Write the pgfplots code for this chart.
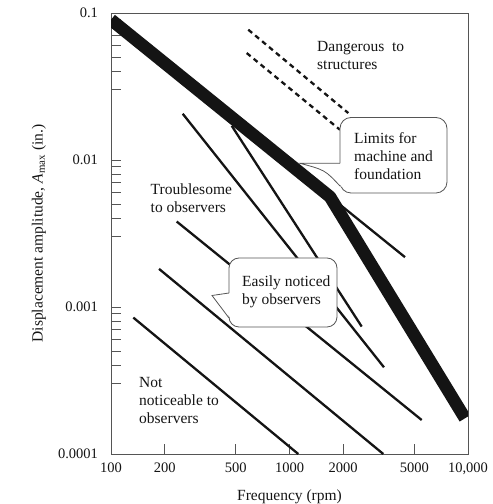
\documentclass[border=0pt]{standalone}
\usepackage{fontspec}
\setmainfont{Liberation Serif}
\usepackage{pgfplots}
\pgfplotsset{compat=1.18}

\definecolor{ink}{RGB}{20,20,20}
\definecolor{frame}{RGB}{85,85,85}

\begin{document}
\begin{tikzpicture}
\begin{loglogaxis}[
  scale only axis,
  width=357bp, height=441bp,
  xmin=100, xmax=10000,
  ymin=0.0001, ymax=0.1,
  xtick={100,200,500,1000,2000,5000,10000},
  xticklabels={100,200,500,1000,2000,5000,{10,000}},
  ytick={0.0001,0.001,0.01,0.1},
  yticklabels={0.0001,0.001,0.01,0.1},
  minor xtick={},
  minor ytick={0.0003,0.0004,0.0005,0.0006,0.0007,0.0008,0.0009,
               0.003,0.004,0.005,0.006,0.007,0.008,0.009,
               0.03,0.04,0.05,0.06,0.07,0.08,0.09},
  xtick pos=bottom, ytick pos=left,
  tick align=inside,
  major tick length=10bp, minor tick length=10bp,
  every tick/.style={frame, line width=0.8bp},
  axis line style={frame, line width=0.8bp},
  /pgf/number format/assume math mode=true,
  tick label style={font=\fontsize{14.5bp}{16bp}\selectfont, text=ink},
  xticklabel style={yshift=-5bp},
  yticklabel style={xshift=-9.5bp},
  xlabel={Frequency (rpm)},
  ylabel={Displacement amplitude, \textit{A}\textsubscript{max} (in.)},
  label style={font=\fontsize{15.5bp}{18bp}\selectfont, text=ink},
  xlabel style={at={(axis description cs:0.5,-0.0968)}, anchor=center},
  ylabel style={at={(axis description cs:-0.2017,0.5)}, anchor=center},
]
% limits for machine and foundation
\addplot[ink, line width=12.5bp, line join=round] coordinates {
  (100,0.09) (1686,0.00562) (9620,0.000175)
};
% thin boundaries
\addplot[ink, line width=2.3bp] coordinates {(133.4,0.000847) (1120,0.0001)};
\addplot[ink, line width=2.3bp] coordinates {(185.8,0.001817) (3354,0.0001)};
\addplot[ink, line width=2.3bp] coordinates {(233.4,0.003815) (5504,0.0001703)};
\addplot[ink, line width=2.3bp] coordinates {(252.2,0.02064) (3383,0.000389)};
\addplot[ink, line width=2.3bp] coordinates {(474.5,0.01709) (2538,0.000736)};
\addplot[ink, line width=2.3bp] coordinates {(1006,0.00935) (4437,0.002183)};
% dangerous to structures
\addplot[ink, line width=2.3bp, dash pattern=on 5bp off 4bp] coordinates {(587.6,0.0770) (2135,0.02086)};
\addplot[ink, line width=2.3bp, dash pattern=on 5bp off 4bp] coordinates {(575.8,0.05341) (1918,0.01606)};
\end{loglogaxis}

% annotations in picture pixels
\begin{scope}[x=1bp, y=-1bp, shift={(-111bp,454bp)},
  every node/.style={font=\fontsize{15.5bp}{18bp}\selectfont, text=ink, align=left, anchor=west, inner sep=0pt}]
  % callout: limits for machine and foundation
  \draw[frame, line width=0.8bp, fill=white, rounded corners=11bp] (340,117.5) rectangle (447,193);
  \fill[white] (342,163.3) -- (300,163.3) .. controls (325,170) .. (342,187) -- cycle;
  \draw[frame, line width=0.8bp] (340,163.3) -- (300,163.3) .. controls (325,170) .. (340,186);
  \node at (354,156) {Limits for\\machine and\\foundation};
  % callout: easily noticed
  \draw[frame, line width=0.8bp, fill=white, rounded corners=10bp] (229,258) rectangle (337,327);
  \fill[white] (231,293) -- (212,295.5) -- (231,318.5) -- cycle;
  \draw[frame, line width=0.8bp] (229,293) -- (212,295.5) -- (229,318);
  \node at (242,292) {Easily noticed\\by observers};
  % free text
  \node at (317,56) {Dangerous\ \ to\\structures};
  \node at (150.5,198.5) {Troublesome\\to observers};
  \node at (139,401) {Not\\noticeable to\\observers};
\end{scope}

\pgfresetboundingbox
\path[use as bounding box] (-111bp,-50bp) rectangle (382bp,454bp);
\end{tikzpicture}
\end{document}
